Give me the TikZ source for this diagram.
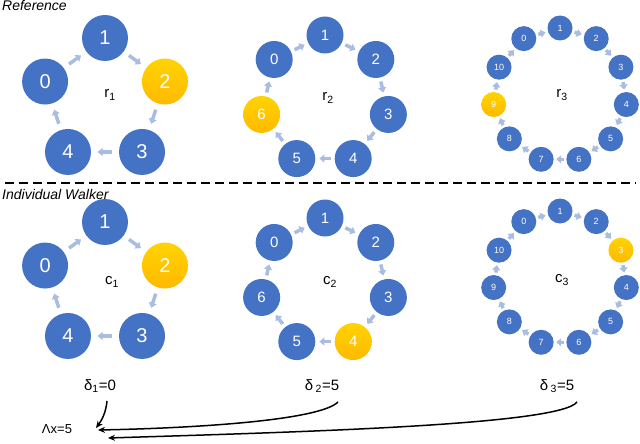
\documentclass[tikz,border=0pt]{standalone}
\usepackage{fontspec}
\setmainfont{Liberation Sans}
\usetikzlibrary{arrows.meta,calc}
\definecolor{nblue}{HTML}{4472C4}
\definecolor{nyel}{HTML}{FFC000}
\definecolor{arr}{HTML}{A9BDE0}
\tikzset{
 bn/.style={circle,fill=nblue,text=white,inner sep=0pt},
 yn/.style={circle,top color=nyel!70!yellow,bottom color=nyel!90!orange,text=white,inner sep=0pt},
 ra/.style={arr,line width=3.5pt,-{Triangle[width=8pt,length=5pt]}},
 lbl/.style={font=\fontsize{15}{17}\selectfont},
 blk/.style={black,line width=1.5pt,-{Stealth[length=7pt,width=6pt]}},
}
% #1 name, #2 cx, #3 cy, #4 n, #5 R, #6 node size, #7 font size, #8 yellow index
\newcommand{\myring}[8]{%
 \foreach \k in {0,...,\numexpr#4-1\relax}{%
  \pgfmathsetmacro{\ang}{-(90+360/#4-\k*360/#4)}%
  \ifnum\k=#8 \def\sty{yn}\else\def\sty{bn}\fi
  \node[\sty,minimum size=#6,font=\fontsize{#7}{#7}\selectfont] (#1n\k) at ($(#2,#3)+(\ang:#5)$) {\k};
 }%
 \foreach \k in {0,...,\numexpr#4-1\relax}{%
  \pgfmathtruncatemacro{\nx}{mod(\k+1,#4)}%
  \draw[ra] ($(#1n\k)!0.4!(#1n\nx)$) -- ($(#1n\k)!0.6!(#1n\nx)$);
 }%
}
\begin{document}
\begin{tikzpicture}[x=1pt,y=-1pt]
\useasboundingbox (0,0) rectangle (640,444);
\node[anchor=north west,inner sep=0pt,font=\itshape\fontsize{14}{16}\selectfont] (hr) at (2,0) {Reference};
\node[anchor=north west,inner sep=0pt,font=\itshape\fontsize{14}{16}\selectfont] (hw) at (2,189) {Individual Walker};
\coordinate (dl) at (5,183); \coordinate (dr) at (636,183);
\draw[line width=2pt,dash pattern=on 9pt off 5pt] (dl) -- (dr);
\myring{a}{105}{101}{5}{63}{46pt}{20}{2}
\myring{b}{325}{100}{7}{65}{37pt}{15}{6}
\myring{c}{560}{95}{11}{67}{25pt}{9}{9}
\myring{d}{105}{285}{5}{63}{46pt}{20}{2}
\myring{e}{325}{283}{7}{65}{37pt}{15}{4}
\myring{f}{560}{278}{11}{67}{25pt}{9}{3}
\node[lbl] (ra) at (110,95) {r\textsubscript{1}};
\node[lbl] (rb) at (328,98) {r\textsubscript{2}};
\node[lbl] (rc) at (562,95) {r\textsubscript{3}};
\node[lbl] (ca) at (112,282) {c\textsubscript{1}};
\node[lbl] (cb) at (330,282) {c\textsubscript{2}};
\node[lbl] (cc) at (562,280) {c\textsubscript{3}};
\node[lbl] (d1) at (100,386) {δ\textsubscript{1}=0};
\node[lbl] (d2) at (322,386) {δ\,\textsubscript{2}=5};
\node[lbl] (d3) at (557,386) {δ\,\textsubscript{3}=5};
\node[lbl,font=\fontsize{13}{15}\selectfont] (dx) at (57,429) {Λx=5};
\draw[blk] (107,401) .. controls (106,412) and (102,420) .. (96,428);
\draw[blk] (338,402) .. controls (320,420) and (200,428) .. (98,430);
\draw[blk] (577,402) .. controls (560,425) and (300,432) .. (108,438);
\end{tikzpicture}
\end{document}
